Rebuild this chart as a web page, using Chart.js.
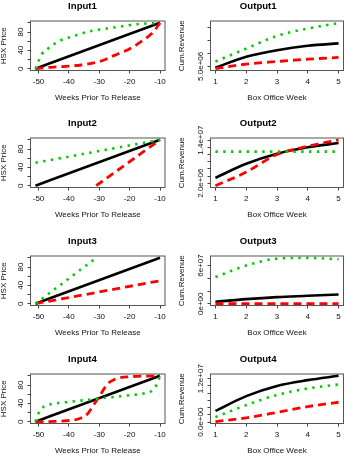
<!DOCTYPE html>
<html>
<head>
<meta charset="utf-8">
<script src="https://cdn.jsdelivr.net/npm/chart.js@4.4.0/dist/chart.umd.min.js"></script>
<style>
  body { margin: 0; background: #fff; }
  #wrap { position: relative; width: 346px; height: 456px; overflow: hidden; background: #fff; }
  canvas { position: absolute; }
</style>
</head>
<body>
<div id="wrap">
  <canvas id="in1" width="173" height="104" style="left:0px;top:0px"></canvas>
  <canvas id="out1" width="173" height="104" style="left:173px;top:0px"></canvas>
  <canvas id="in2" width="173" height="104" style="left:0px;top:117px"></canvas>
  <canvas id="out2" width="173" height="104" style="left:173px;top:117px"></canvas>
  <canvas id="in3" width="173" height="104" style="left:0px;top:235px"></canvas>
  <canvas id="out3" width="173" height="104" style="left:173px;top:235px"></canvas>
  <canvas id="in4" width="173" height="104" style="left:0px;top:353px"></canvas>
  <canvas id="out4" width="173" height="104" style="left:173px;top:353px"></canvas>
</div>
<script>
const FONT = "'Liberation Sans', Arial, Helvetica, sans-serif"

// axis ticks
const weekTicks = [-50, -40, -30, -20, -10]
const weekLabels = ["-50", "-40", "-30", "-20", "-10"]
const boxWeeks = [1, 2, 3, 4, 5]
const boxWeekLabels = ["1", "2", "3", "4", "5"]
const priceTicks = [0, 20, 40, 60, 80, 100]
const priceLabels = ["0", "", "40", "", "80", ""]

// black straight line, same in every input panel
const lineWeeks = [-51, -10]
const linePrice = [0, 100]

// Input1
const in1GreenWeeks = [-51, -50, -49, -47, -45, -43, -40, -37, -34, -31, -28, -25, -22, -19, -16, -13, -10]
const in1GreenPrice = [0, 16, 31, 43, 53, 61, 68, 74, 80, 84, 87, 90, 93, 96, 98, 99, 100]
const in1RedWeeks = [-51, -46, -41, -36, -31, -28, -25, -22, -19, -16, -13, -11.5, -10]
const in1RedPrice = [0, 3, 5, 8, 14, 20, 29, 37, 47, 60, 75, 86, 100]

// Input2
const in2GreenWeeks = [-51, -10]
const in2GreenPrice = [50, 100]
const in2RedWeeks = [-31, -10]
const in2RedPrice = [0, 100]

// Input3
const in3GreenWeeks = [-51, -31]
const in3GreenPrice = [0, 100]
const in3RedWeeks = [-51, -10]
const in3RedPrice = [0, 50]

// Input4
const in4GreenWeeks = [-51, -50.5, -50, -49, -48, -46, -43, -40, -36, -33, -30.5, -28, -25, -21, -18, -15, -13, -12, -11, -10.5, -10]
const in4GreenPrice = [0, 10, 18, 28, 34, 38, 41, 43, 46, 48, 50, 52, 54, 57, 59, 62, 66, 72, 82, 90, 100]
const in4RedWeeks = [-51, -45, -41, -38, -36, -34, -32.5, -31.5, -30.5, -29.5, -28.5, -27, -25, -23, -20, -15, -10]
const in4RedPrice = [0, 0.5, 2, 4, 8, 16, 30, 40, 50, 60, 71, 84, 92, 96, 98, 99.5, 100]

// Output1
const out1Black = [4.5e6, 8.65e6, 1.12e7, 1.29e7, 1.38e7]
const out1Red = [4.15e6, 5.85e6, 6.85e6, 7.75e6, 8.4e6]
const out1Green = [6.85e6, 1.18e7, 1.67e7, 1.95e7, 2.16e7]
const out1Ticks = [5e6, 1e7, 1.5e7, 2e7]
const out1Labels = ["5.0e+06", "", "", ""]

// Output2
const out2Black = [3.5e6, 7.4e6, 1.02e7, 1.2e7, 1.32e7]
const out2Red = [1.3e6, 5.1e6, 1.0e7, 1.23e7, 1.41e7]
const out2Green = [1.08e7, 1.08e7, 1.08e7, 1.08e7, 1.08e7]
const out2Ticks = [2e6, 4e6, 6e6, 8e6, 1e7, 1.2e7, 1.4e7]
const out2Labels = ["2.0e+06", "", "", "", "", "", "1.4e+07"]

// Output3
const out3Black = [3.1e6, 7.3e6, 1.05e7, 1.25e7, 1.45e7]
const out3Red = [2e5, 3e5, 3e5, 4e5, 4e5]
const out3Green = [4.2e7, 6.0e7, 7.08e7, 7.2e7, 7.0e7]
const out3Ticks = [0, 2e7, 4e7, 6e7]
const out3Labels = ["0e+00", "", "", "6e+07"]

// Output4
const out4Black = [3.1e6, 7.2e6, 1.0e7, 1.16e7, 1.28e7]
const out4Red = [1.4e5, 1.2e6, 2.7e6, 4.3e6, 5.5e6]
const out4Green = [1.4e6, 4.7e6, 7.5e6, 9.3e6, 1.04e7]
const out4Ticks = [0, 2e6, 4e6, 6e6, 8e6, 1e7, 1.2e7]
const out4Labels = ["0.0e+00", "", "", "", "", "", "1.2e+07"]

const blackStyle = { borderColor: "#000000", borderWidth: 2.6, pointRadius: 0, cubicInterpolationMode: "monotone", order: 3 }
const redStyle = { borderColor: "#ff0000", borderWidth: 2.8, borderDash: [8, 5], pointRadius: 0, cubicInterpolationMode: "monotone", order: 2 }
const greenStyle = { borderColor: "#00cd00", borderWidth: 2.6, borderDash: [2.4, 5.4], pointRadius: 0, cubicInterpolationMode: "monotone", order: 1 }

const TICK_LEN = 3
const LABEL_GAP = 10 // distance from box to centre of rotated y labels
const measureCtx = document.createElement("canvas").getContext("2d")

function series(xs, ys, style) {
  return Object.assign({ data: xs.map((x, i) => ({ x: x, y: ys[i] })) }, style)
}

const panels = [
  { id: "in1", title: "Input1", input: true, sets: [
    series(lineWeeks, linePrice, blackStyle), series(in1RedWeeks, in1RedPrice, redStyle), series(in1GreenWeeks, in1GreenPrice, greenStyle)] },
  { id: "out1", title: "Output1", input: false, yMin: 3.4e6, yMax: 2.24e7, yTicks: out1Ticks, yLabels: out1Labels, sets: [
    series(boxWeeks, out1Black, blackStyle), series(boxWeeks, out1Red, redStyle), series(boxWeeks, out1Green, greenStyle)] },
  { id: "in2", title: "Input2", input: true, sets: [
    series(lineWeeks, linePrice, blackStyle), series(in2RedWeeks, in2RedPrice, redStyle), series(in2GreenWeeks, in2GreenPrice, greenStyle)] },
  { id: "out2", title: "Output2", input: false, yMin: 8e5, yMax: 1.46e7, yTicks: out2Ticks, yLabels: out2Labels, sets: [
    series(boxWeeks, out2Black, blackStyle), series(boxWeeks, out2Red, redStyle), series(boxWeeks, out2Green, greenStyle)] },
  { id: "in3", title: "Input3", input: true, sets: [
    series(lineWeeks, linePrice, blackStyle), series(in3RedWeeks, in3RedPrice, redStyle), series(in3GreenWeeks, in3GreenPrice, greenStyle)] },
  { id: "out3", title: "Output3", input: false, yMin: -2.7e6, yMax: 7.5e7, yTicks: out3Ticks, yLabels: out3Labels, sets: [
    series(boxWeeks, out3Black, blackStyle), series(boxWeeks, out3Red, redStyle), series(boxWeeks, out3Green, greenStyle)] },
  { id: "in4", title: "Input4", input: true, sets: [
    series(lineWeeks, linePrice, blackStyle), series(in4RedWeeks, in4RedPrice, redStyle), series(in4GreenWeeks, in4GreenPrice, greenStyle)] },
  { id: "out4", title: "Output4", input: false, yMin: -3.7e5, yMax: 1.33e7, yTicks: out4Ticks, yLabels: out4Labels, sets: [
    series(boxWeeks, out4Black, blackStyle), series(boxWeeks, out4Red, redStyle), series(boxWeeks, out4Green, greenStyle)] },
]

// R style box around the plot region, drawn under the lines
const boxPlugin = {
  id: "box",
  beforeDatasetsDraw(chart) {
    const { ctx, chartArea: a } = chart
    ctx.save()
    ctx.strokeStyle = "#555"
    ctx.lineWidth = 1
    ctx.strokeRect(a.left, a.top, a.right - a.left, a.bottom - a.top)
    ctx.restore()
  },
}

function xAxis(range, ticks, labels, title) {
  return {
    type: "linear",
    min: range[0],
    max: range[1],
    afterBuildTicks: (ax) => { ax.ticks = ticks.map((v) => ({ value: v })) },
    afterFit: (ax) => { ax.height = 33.5 },
    ticks: { autoSkip: false, maxRotation: 0, padding: 3.5, color: "#111", font: { size: 8 }, callback: (v, i) => labels[i] },
    grid: { drawOnChartArea: false, tickLength: TICK_LEN, color: "#444" },
    border: { display: false },
    title: { display: true, text: title, color: "#111", font: { size: 8 }, padding: { top: 0, bottom: 1.7 } },
  }
}

function yAxis(min, max, ticks, labels, title, width, titlePad) {
  measureCtx.font = "8px " + FONT
  const widest = Math.max(...labels.map((l) => measureCtx.measureText(l).width))
  return {
    type: "linear",
    min: min,
    max: max,
    afterBuildTicks: (ax) => { ax.ticks = ticks.map((v) => ({ value: v })) },
    afterFit: (ax) => { ax.width = width },
    ticks: {
      autoSkip: false, minRotation: 90, maxRotation: 90, crossAlign: "center",
      padding: LABEL_GAP - TICK_LEN - widest / 2,
      color: "#111", font: { size: 8 }, callback: (v, i) => labels[i],
    },
    grid: { drawOnChartArea: false, tickLength: TICK_LEN, color: "#444" },
    border: { display: false },
    title: { display: true, text: title, color: "#111", font: { size: 8 }, padding: { top: titlePad, bottom: 0 } },
  }
}

function buildChart(p) {
  const x = p.input
    ? xAxis([-52.64, -8.36], weekTicks, weekLabels, "Weeks Prior To Release")
    : xAxis([0.84, 5.16], boxWeeks, boxWeekLabels, "Box Office Week")
  const y = p.input
    ? yAxis(-4, 104, priceTicks, priceLabels, "HSX Price", 30.5, -0.8)
    : yAxis(p.yMin, p.yMax, p.yTicks, p.yLabels, "Cum.Revenue", 37.5, 4.2)

  new Chart(document.getElementById(p.id), {
    type: "line",
    data: { datasets: p.sets },
    options: {
      responsive: false,
      animation: false,
      events: [],
      layout: { padding: { left: 0, right: p.input ? 8 : 2.5, top: 0, bottom: 0 } },
      plugins: {
        legend: { display: false },
        tooltip: { enabled: false },
        title: {
          display: true,
          text: p.title,
          color: "#000",
          font: { size: 9.6, weight: "bold", lineHeight: 1.25 },
          padding: { top: 0, bottom: 9 },
        },
      },
      scales: { x: x, y: y },
    },
    plugins: [boxPlugin],
  })
}

Chart.defaults.font.family = FONT
Chart.defaults.color = "#111"
panels.forEach(buildChart)
</script>
</body>
</html>
